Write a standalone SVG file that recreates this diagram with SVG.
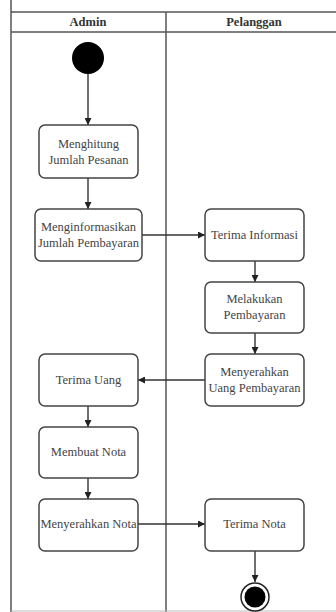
<svg xmlns="http://www.w3.org/2000/svg" width="336" height="612" viewBox="0 0 336 612" font-family="Liberation Serif, Times New Roman, serif">
<defs>
<style>
.lane{stroke:#555;stroke-width:1.5;fill:none}
.box{fill:#fff;stroke:#444;stroke-width:1.5}
.t{font-size:12.5px;fill:#444;text-anchor:middle}
.h{font-size:12.5px;font-weight:bold;fill:#333;text-anchor:middle}
.c{stroke:#333;stroke-width:1.4;fill:none;marker-end:url(#ah)}
</style>
<marker id="ah" viewBox="0 0 10 10" refX="10" refY="5" markerWidth="7" markerHeight="7" markerUnits="userSpaceOnUse" orient="auto">
<path d="M0,0 L10,5 L0,10 z" fill="#222"/>
</marker>
</defs>
<rect width="336" height="612" fill="#fff"/>
<g id="swimlanes">
<line class="lane" x1="11" y1="0" x2="11" y2="612"/>
<line class="lane" x1="11" y1="12" x2="336" y2="12"/>
<line class="lane" x1="11" y1="32" x2="336" y2="32"/>
<line class="lane" x1="166" y1="12" x2="166" y2="612"/>
<line x1="11" y1="611" x2="336" y2="611" stroke="#bbb" stroke-width="1"/>
<text class="h" x="88" y="26">Admin</text>
<text class="h" x="254" y="26">Pelanggan</text>
</g>
<g id="connectors">
<line class="c" x1="88" y1="74" x2="88" y2="125"/>
<line class="c" x1="88" y1="178" x2="88" y2="209"/>
<line class="c" x1="142" y1="235" x2="205" y2="235"/>
<line class="c" x1="255" y1="261" x2="255" y2="282"/>
<line class="c" x1="255" y1="333" x2="255" y2="354"/>
<line class="c" x1="205" y1="380" x2="138" y2="380"/>
<line class="c" x1="88" y1="406" x2="88" y2="427"/>
<line class="c" x1="88" y1="478" x2="88" y2="499"/>
<line class="c" x1="138" y1="524" x2="205" y2="524"/>
<line class="c" x1="255" y1="551" x2="255" y2="582"/>
</g>
<g id="start"><circle cx="88" cy="58" r="16" fill="#000"/></g>
<g id="n1"><rect class="box" x="39" y="125" width="99" height="53" rx="6"/><text class="t" x="88.5" y="148">Menghitung</text><text class="t" x="88.5" y="164">Jumlah Pesanan</text></g>
<g id="n2"><rect class="box" x="35" y="209" width="107" height="52" rx="6"/><text class="t" x="88.5" y="231">Menginformasikan</text><text class="t" x="88.5" y="247">Jumlah Pembayaran</text></g>
<g id="n3"><rect class="box" x="205" y="209" width="99" height="52" rx="6"/><text class="t" x="254.5" y="239">Terima Informasi</text></g>
<g id="n4"><rect class="box" x="205" y="282" width="99" height="51" rx="6"/><text class="t" x="254.5" y="303">Melakukan</text><text class="t" x="254.5" y="319">Pembayaran</text></g>
<g id="n5"><rect class="box" x="205" y="354" width="99" height="52" rx="6"/><text class="t" x="254.5" y="376">Menyerahkan</text><text class="t" x="254.5" y="392">Uang Pembayaran</text></g>
<g id="n6"><rect class="box" x="39" y="354" width="99" height="52" rx="6"/><text class="t" x="88.5" y="384">Terima Uang</text></g>
<g id="n7"><rect class="box" x="39" y="427" width="99" height="51" rx="6"/><text class="t" x="88.5" y="456">Membuat Nota</text></g>
<g id="n8"><rect class="box" x="39" y="499" width="99" height="52" rx="6"/><text class="t" x="88.5" y="528">Menyerahkan Nota</text></g>
<g id="n9"><rect class="box" x="205" y="499" width="99" height="52" rx="6"/><text class="t" x="254.5" y="528">Terima Nota</text></g>
<g id="end"><circle cx="255" cy="597" r="14" fill="#fff" stroke="#222" stroke-width="1.5"/><circle cx="255" cy="597" r="10.5" fill="#000"/></g>
</svg>
